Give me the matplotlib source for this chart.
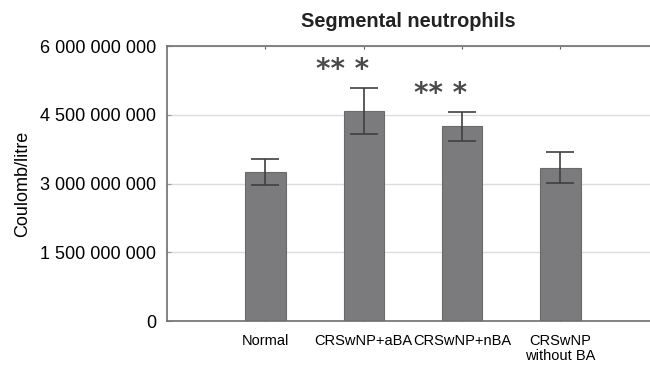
import matplotlib
matplotlib.use("Agg")
import matplotlib.pyplot as plt
import numpy as np
from matplotlib.ticker import FuncFormatter

groups = ["Normal", "CRSwNP+aBA", "CRSwNP+nBA", "CRSwNP\nwithout BA"]
means = [3.25e9, 4.58e9, 4.25e9, 3.35e9]
errors = [0.28e9, 0.50e9, 0.31e9, 0.33e9]
stars = ["", "** *", "** *", ""]
yticks = [0, 1.5e9, 3.0e9, 4.5e9, 6.0e9]

plt.rcParams["font.family"] = ["Liberation Sans", "DejaVu Sans"]

fig = plt.figure(figsize=(6.5, 3.72), dpi=100)
ax = fig.add_axes([0.257, 0.137, 0.743, 0.739])

x = np.arange(1, len(groups) + 1)
ax.bar(x, means, width=0.41, color="#7b7b7d", edgecolor="#6a6a6c",
       linewidth=0.8, zorder=2)
ax.errorbar(x, means, yerr=errors, fmt="none", ecolor="#3f3f3f",
            elinewidth=1.2, capsize=10, capthick=1.2, zorder=3)

# significance marks above the error bars
for xi, m, e, s in zip(x, means, errors, stars):
    if s:
        ax.text(xi - 0.22, m + e + 0.22e9, s, ha="center", va="baseline",
                fontsize=20, fontweight="bold", color="#4a4a4a",
                family=["DejaVu Sans"])

ax.set_xlim(0, 4.91)
ax.set_ylim(0, 6e9)
ax.set_yticks(yticks)
ax.yaxis.set_major_formatter(
    FuncFormatter(lambda v, p: f"{int(v):,}".replace(",", " ")))
ax.set_xticks(x)
ax.set_xticklabels(groups, fontsize=10.5, linespacing=1.15)
ax.tick_params(axis="y", labelsize=13, direction="in", length=3,
               color="#999999", pad=8)
ax.tick_params(axis="x", direction="in", length=2, color="#555555",
               top=True, pad=9)

ax.grid(axis="y", color="#dcdcdc", linewidth=1.0, zorder=0)
ax.set_axisbelow(True)
for side in ["left", "bottom", "top"]:
    ax.spines[side].set_color("#6e6e6e")
    ax.spines[side].set_linewidth(1.2)
ax.spines["right"].set_visible(False)

ax.set_ylabel("Coulomb/litre", fontsize=13, labelpad=6)
ax.set_title("Segmental neutrophils", fontsize=14.3, fontweight="bold",
             color="#222222", pad=14)

fig.savefig("out.png", dpi=100)
